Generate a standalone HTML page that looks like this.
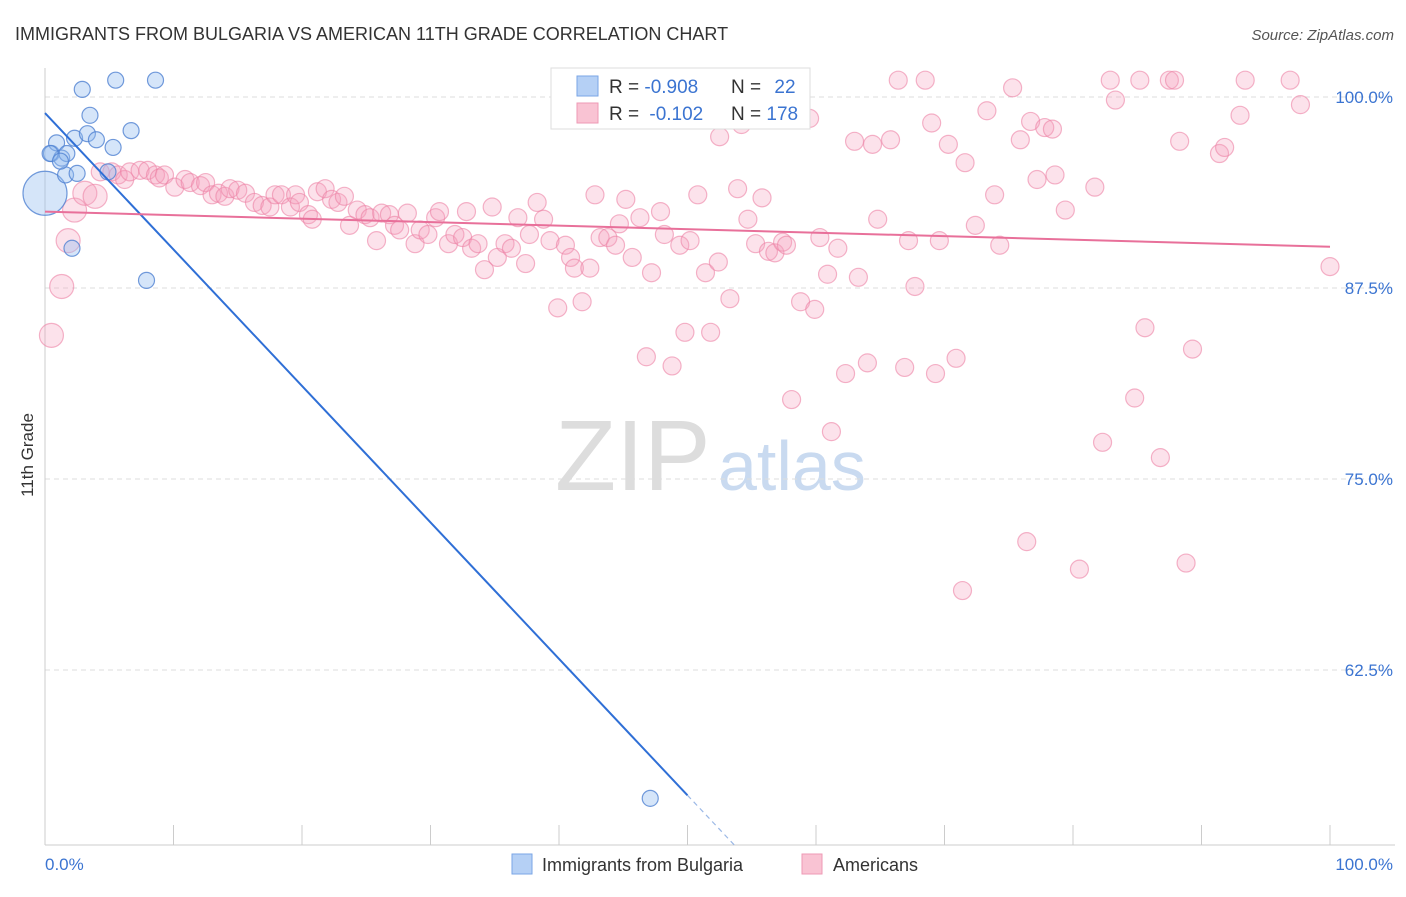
<!DOCTYPE html>
<html><head><meta charset="utf-8">
<style>
body{margin:0;background:#fff;font-family:"Liberation Sans",sans-serif;}
svg text{font-family:"Liberation Sans",sans-serif;}
</style></head>
<body>
<svg id="chart" width="1406" height="892" xmlns="http://www.w3.org/2000/svg">
<text x="15" y="40" font-size="18" fill="#333">IMMIGRANTS FROM BULGARIA VS AMERICAN 11TH GRADE CORRELATION CHART</text>
<text x="1394" y="40" font-size="15" fill="#555" font-style="italic" text-anchor="end">Source: ZipAtlas.com</text>
<text x="33" y="455" font-size="17" fill="#333" text-anchor="middle" transform="rotate(-90 33 455)">11th Grade</text>
<text x="555" y="490" font-size="100" fill="#ddd" font-family="Liberation Serif">ZIP</text>
<text x="718" y="490" font-size="70" fill="#c9daf0">atlas</text>
<g id="grid"></g><g id="axes"></g><g id="pts"></g><g id="lines"></g>
<g>
<rect x="551" y="68" width="259" height="61" fill="#fff" stroke="#ddd"/>
<rect x="577" y="76" width="21" height="20" fill="#b5d0f5" stroke="#7aa6e6"/>
<rect x="577" y="103" width="21" height="20" fill="#f9c3d3" stroke="#ee9ab5"/>
<text x="609" y="93" font-size="19" fill="#333">R = <tspan fill="#3b74d1">-0.908</tspan></text>
<text x="731" y="93" font-size="19" fill="#333">N = <tspan fill="#3b74d1" dx="8">22</tspan></text>
<text x="609" y="120" font-size="19" fill="#333">R = <tspan fill="#3b74d1" dx="5">-0.102</tspan></text>
<text x="731" y="120" font-size="19" fill="#333">N = <tspan fill="#3b74d1">178</tspan></text>
</g>
<g>
<rect x="512" y="854" width="20" height="20" fill="#b5d0f5" stroke="#7aa6e6"/>
<text x="542" y="871" font-size="18" fill="#333">Immigrants from Bulgaria</text>
<rect x="802" y="854" width="20" height="20" fill="#f9c3d3" stroke="#ee9ab5"/>
<text x="833" y="871" font-size="18" fill="#333">Americans</text>
</g>
</svg>
<script>
const yTicks=[100,87.5,75,62.5];
const yTickLabels=["100.0%","87.5%","75.0%","62.5%"];
const xTickLabels=["0.0%","100.0%"];
const pinkX=[0.5,1.3,1.8,2.3,3.1,3.9,4.3,5.2,5.7,6.2,6.6,7.4,8.0,8.6,8.9,9.3,10.1,10.9,11.3,12.1,12.5,13.0,13.5,14.0,14.4,15.0,15.6,16.3,16.9,17.5,17.9,18.4,19.1,19.5,19.8,20.5,20.8,21.2,21.8,22.3,22.8,23.3,23.7,24.3,24.9,25.3,25.8,26.2,26.8,27.2,27.6,28.2,28.8,29.2,29.8,30.4,30.7,31.4,31.9,32.5,32.8,33.2,33.7,34.2,34.8,35.2,35.8,36.3,36.8,37.4,37.7,38.3,38.8,39.3,39.9,40.5,40.9,41.2,41.8,42.4,42.8,43.2,43.8,44.4,44.7,45.2,45.7,46.3,46.8,47.2,47.9,48.2,48.8,49.4,49.8,50.2,50.8,51.4,51.8,52.4,52.5,53.3,53.9,54.2,54.7,55.3,55.8,56.3,56.8,57.4,57.7,58.1,58.8,59.5,59.9,60.3,60.9,61.2,61.7,62.3,63.0,63.3,64.0,64.4,64.8,65.8,66.4,66.9,67.2,67.7,68.5,69.0,69.3,69.6,70.3,70.9,71.4,71.6,72.4,73.3,73.9,74.3,75.3,75.9,76.4,76.7,77.2,77.8,78.4,78.6,79.4,80.5,81.7,82.3,82.9,83.3,84.8,85.2,85.6,86.8,87.5,87.9,88.3,88.8,89.3,91.4,91.8,93.0,93.4,96.9,97.7,100.0];
const pinkY=[84.4,87.6,90.6,92.6,93.7,93.5,95.1,95.1,94.9,94.6,95.1,95.2,95.2,94.9,94.7,94.9,94.1,94.6,94.4,94.2,94.4,93.6,93.7,93.5,94.0,93.9,93.7,93.1,92.9,92.8,93.6,93.6,92.8,93.6,93.1,92.3,92.0,93.8,94.0,93.3,93.1,93.5,91.6,92.6,92.3,92.1,90.6,92.4,92.3,91.6,91.3,92.4,90.4,91.3,91.0,92.1,92.5,90.4,91.0,90.8,92.5,90.1,90.4,88.7,92.8,89.5,90.4,90.1,92.1,89.1,91.0,93.1,92.0,90.6,86.2,90.3,89.5,88.8,86.6,88.8,93.6,90.8,90.8,90.3,91.7,93.3,89.5,92.1,83.0,88.5,92.5,91.0,82.4,90.3,84.6,90.6,93.6,88.5,84.6,89.2,97.4,86.8,94.0,98.2,92.0,90.4,93.4,89.9,89.8,90.5,90.3,80.2,86.6,98.6,86.1,90.8,88.4,78.1,90.1,81.9,97.1,88.2,82.6,96.9,92.0,97.2,101.1,82.3,90.6,87.6,101.1,98.3,81.9,90.6,96.9,82.9,67.7,95.7,91.6,99.1,93.6,90.3,100.6,97.2,70.9,98.4,94.6,98.0,97.9,94.9,92.6,69.1,94.1,77.4,101.1,99.8,80.3,101.1,84.9,76.4,101.1,101.1,97.1,69.5,83.5,96.3,96.7,98.8,101.1,101.1,99.5,88.9];
const blueX=[0,0.5,0.9,1.3,1.7,1.6,2.1,2.3,2.5,2.9,3.3,3.5,4.0,4.9,5.3,5.5,6.7,7.9,8.6,47.1,0.4,1.2];
const blueY=[93.7,96.3,97.0,96.0,96.3,94.9,90.1,97.3,95.0,100.5,97.6,98.8,97.2,95.1,96.7,101.1,97.8,88.0,101.1,54.1,96.3,95.8];
const blueFit=[98.95,-0.893];
const pinkFit=[92.5,-0.023];
const NS="http://www.w3.org/2000/svg";
const X=v=>45+v*12.85, Y=v=>97+(100-v)*15.28;
function mk(t,a,p){const e=document.createElementNS(NS,t);for(const k in a)e.setAttribute(k,a[k]);document.getElementById(p).appendChild(e);return e;}
yTicks.forEach((t,i)=>{
 const g=mk('line',{x1:45,x2:1395,y1:Y(t),y2:Y(t),stroke:'#ddd','stroke-dasharray':'5,4'},'grid');
 
 
 const tx=mk('text',{x:1393,y:Y(t)+6,'font-size':17,fill:'#3b74d1','text-anchor':'end'},'axes');
 tx.textContent=yTickLabels[i];
 
 
});
const ax=mk('line',{x1:45,x2:1395,y1:845,y2:845,stroke:'#ccc'},'axes');


const ay=mk('line',{x1:45,x2:45,y1:68,y2:845,stroke:'#ccc'},'axes');


for(let i=0;i<=10;i++){
 const t=mk('line',{x1:X(i*10),x2:X(i*10),y1:825,y2:845,stroke:'#ccc'},'axes');
 
 
}
[[0,'start',45],[100,'end',1393]].forEach((d,i)=>{
 const t=mk('text',{x:d[2],y:870,'font-size':17,fill:'#3b74d1','text-anchor':d[1]},'axes');
 t.textContent=xTickLabels[i];
 
 
});
pinkX.forEach((x,i)=>{
 const r=x<4?12:9;
 const c=mk('circle',{cx:X(x),cy:Y(pinkY[i]),r:r,fill:'rgba(244,160,190,0.3)',stroke:'rgba(236,130,165,0.6)','stroke-width':1.2},'pts');
 
 
});
blueX.forEach((x,i)=>{
 const r=i===0?22:8;
 const c=mk('circle',{cx:X(x),cy:Y(blueY[i]),r:r,fill:'rgba(150,190,240,0.4)',stroke:'rgba(80,130,210,0.8)','stroke-width':1.2},'pts');
 
 
});
const bl=mk('line',{x1:X(0),y1:Y(blueFit[0]),x2:X(50),y2:Y(blueFit[0]+blueFit[1]*50),stroke:'#2f6fd6','stroke-width':2},'lines');


const bd=mk('line',{x1:X(50),y1:Y(blueFit[0]+blueFit[1]*50),x2:X(53.7),y2:Y(blueFit[0]+blueFit[1]*53.7),stroke:'#9bb8e6','stroke-width':1.2,'stroke-dasharray':'5,4'},'lines');


const pl=mk('line',{x1:X(0),y1:Y(pinkFit[0]),x2:X(100),y2:Y(pinkFit[0]+pinkFit[1]*100),stroke:'#e8709a','stroke-width':2},'lines');


</script>
</body></html>
